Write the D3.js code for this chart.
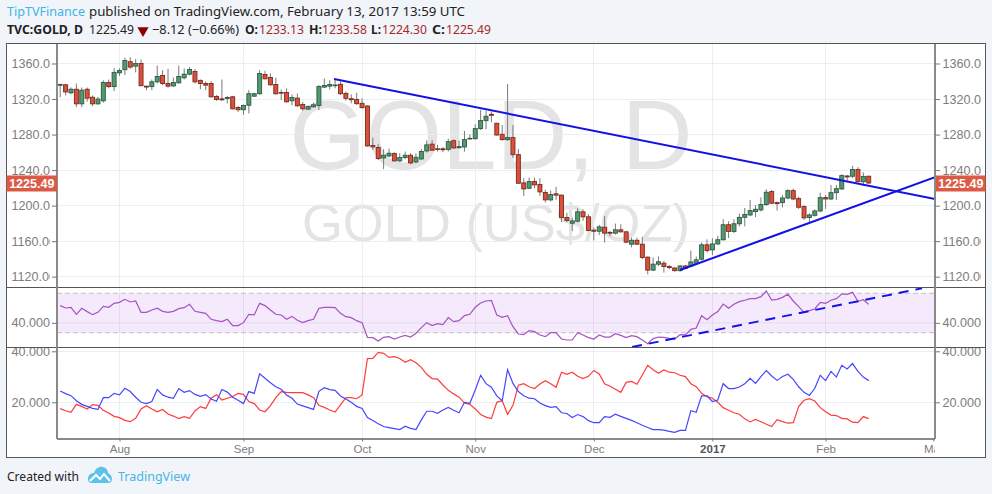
<!DOCTYPE html>
<html><head><meta charset="utf-8">
<script src="https://cdnjs.cloudflare.com/ajax/libs/d3/7.8.5/d3.min.js"></script>
<style>
html,body{margin:0;padding:0;background:#f1f4f8;}
svg{display:block;}
text{font-family:"Liberation Sans",Arial,sans-serif;}
.hd text{font-family:"Noto Sans",sans-serif;}
</style></head><body>
<script>
const opens=[1335.5,1336,1327,1331,1314.6,1331,1322,1314.6,1318,1338.6,1334,1349.5,1353,1362,1357,1360,1334.5,1334,1339.4,1346.5,1337.5,1334.8,1338.2,1343.9,1348,1351,1341,1337.5,1337.5,1322.9,1320.2,1320.6,1322.5,1310.5,1308,1313,1323.2,1326,1347.6,1344.2,1336.4,1327.4,1327.4,1318,1321,1313.9,1308.6,1311.2,1312.8,1333.4,1334.5,
1335,1336.6,1326.4,1320.4,1319.6,1315.2,1312.2,1267.6,1265.4,1253.7,1256,1258.6,1250.4,1254.1,1256.7,1249.2,1252.6,1261.6,1269.2,1264,1264,1263.3,1273.1,1265.2,1266.1,1275,1275.4,1286.7,1295.7,1302.8,1292.7,1280.3,1274.3,1276.6,1257.4,1225.6,1219.6,1227.1,1223.8,1214.8,1206.5,1213.3,1211.8,1186.7,1180.2,1182.5,1193,1187.4,1172.4,1171.2,1175.7,1169.7,1169,1172.8,1170.5,1156.6,1161,1156.6,1142,1127.4,1134.1,
1135.2,1131.4,1129.8,1126.8,1132.1,1132.1,1135.2,1139.7,1155.9,1150.2,1156.9,1161.6,1178.5,1171,1179.6,1186.8,1189.5,1193.3,1195.2,1201.2,1215.8,1203.4,1203.4,1208.6,1216.9,1207.9,1198.9,1186.6,1189.1,1194,1209,1207.5,1214.6,1218.8,1233.4,1233.1,1240.7,1226.9,1233.13];
const closes=[1336.5,1328,1331,1314.6,1330,1321,1314.6,1320,1338.6,1334,1350,1352,1363.4,1356,1360,1335,1333.5,1339.4,1345.4,1337.5,1334.5,1338.6,1345.4,1348,1353.2,1339.4,1337.5,1335.6,1322.5,1319.5,1319.1,1321.7,1309,1308,1312.8,1326,1326,1348.8,1342.8,1336,1325.9,1326.6,1316.9,1321.8,1312.4,1309,1311.6,1313.5,1334.1,1335.2,1336.4,
1335.8,1326,1320.8,1319.2,1314.8,1310.3,1267.2,1266.1,1253,1256.7,1259,1250.4,1254.1,1256.7,1248.1,1254.5,1260.9,1268.4,1262.4,1263.3,1262.9,1272,1264.9,1266.4,1274.3,1275.8,1286.7,1295.7,1300.6,1301.7,1279.5,1274.3,1276.6,1257.4,1225.2,1218.8,1227.1,1223.4,1215.5,1206.5,1212.5,1211.8,1186.7,1183.3,1182.8,1193,1187.4,1172,1171.2,1176.1,1169,1169,1172.8,1170.5,1158.9,1161,1156.6,1141.6,1127.4,1134.1,1136.8,
1131.4,1130.2,1126.8,1132.1,1129.4,1136.6,1139,1155.9,1149.4,1156.9,1161.6,1178.5,1171,1179.6,1186.8,1190.1,1194.4,1195.9,1201.2,1215.1,1202.7,1202.3,1208.6,1216.9,1207.5,1198.2,1186.2,1189.5,1194,1209,1207.5,1214.6,1219.1,1233.8,1232.3,1240.7,1226.9,1232.9,1225.49];
const highs=[1337,1337,1333,1337.5,1333,1333,1324,1322.5,1341,1342,1354.5,1354.5,1366.7,1367,1365,1364.5,1334.5,1342,1357.7,1352.5,1354,1344.2,1357.7,1354.4,1356,1353.6,1342,1340,1340,1324.4,1342,1323.6,1323.6,1312,1314,1330,1327,1352.5,1351.8,1348.8,1343.9,1330.8,1332,1325.1,1326.2,1316.5,1312.4,1315.7,1335.6,1343.1,1341.2,
1341.4,1339.6,1328.3,1325.3,1327.1,1320.8,1312.9,1276.6,1269.2,1263.4,1264.2,1260.1,1259,1260.9,1259,1259,1263.9,1273.3,1273.7,1268.4,1265.7,1275.4,1274.6,1273.1,1284.1,1280.3,1291.6,1307.7,1307,1305.8,1293.4,1290.8,1336.9,1290.8,1263.8,1230.9,1231.6,1231.6,1230.9,1217.8,1217,1221.2,1212.5,1191.9,1186.6,1197.1,1196,1190.4,1175.4,1178.3,1188.2,1171.6,1179.8,1179,1171.6,1164,1164,1164.8,1142.8,1141.6,1142.8,
1137.8,1133.2,1130.6,1133.2,1133.2,1149.4,1142.7,1158.5,1162,1163.4,1166,1184.8,1182.3,1184.8,1190.9,1197.3,1206.4,1200.8,1209.4,1218.5,1217.7,1204.6,1212,1218.4,1219.2,1210.1,1200.4,1191.4,1195.9,1214.6,1212,1223.2,1223.2,1235.3,1234.5,1244.8,1243.3,1237.4,1233.58];
const lows=[1322,1324,1325.5,1311,1311,1317,1312,1313.5,1316,1332,1329,1346,1347,1354,1350,1334.5,1330,1330,1337.5,1335.6,1333,1333.7,1337.5,1342,1346.5,1337.5,1331,1330,1321.7,1318,1318,1315,1308.3,1305.6,1302.2,1303.8,1322.5,1325,1342,1335.2,1325,1318.8,1315.8,1313,1311.2,1306.8,1308.2,1310.5,1307.5,1332.2,1330.8,
1332,1324.5,1318.2,1315.2,1313.3,1309.2,1266.4,1262.7,1251.4,1241,1254.5,1249.6,1248.9,1252.2,1246.6,1247.7,1251.4,1259.7,1261.6,1260.9,1260.1,1261,1264,1264.3,1260.8,1274.7,1273.9,1285.2,1285.9,1294,1278.8,1273.1,1273.1,1253.6,1224.4,1210.9,1218.4,1219.6,1210.9,1203.5,1204.6,1206.5,1181.4,1181.4,1171.4,1181,1183,1171.2,1160.8,1167.1,1158.5,1165.6,1167.4,1169.7,1157.7,1153,1155.7,1139.8,1122.6,1126.6,1132,
1124.6,1128.4,1125.7,1125.7,1128.3,1130.6,1133.3,1138.2,1147.2,1144.2,1155.8,1160.6,1163.5,1169,1176.6,1176.6,1188.4,1187.2,1193.3,1199.7,1201.9,1194.4,1198,1207.1,1206.4,1196.3,1184,1181.4,1187.6,1192.5,1196.3,1206.4,1206.4,1217.7,1227,1231,1226.1,1222.2,1224.3];
const rsi=[57.5,55.1,55.8,48.7,54.8,51.4,48.3,50.7,56.8,55.8,59.8,60.8,63.9,61.2,62.2,50.7,50.7,53.1,54.8,51.7,50.7,51.7,54.4,55.4,58.8,51.7,50.7,49.7,43.6,42.2,41.2,43.6,37.2,37.2,40.2,48.7,48,59.8,57.5,53.1,48.7,48,43.6,46.6,42.6,40.2,42.2,43.6,54.8,55.8,55.8,
55.4,49.7,46.3,45.3,42.2,40.2,25.3,25,21.6,25.3,26,23.6,25.6,27.3,25.6,29.4,35.1,40.2,37.2,39.2,38.2,45.3,41.2,42.2,47.3,48.7,55.8,60.2,62.2,62.9,48,45.6,47.3,36.1,28.7,28,32.1,31.1,27.7,26,30,30,23.6,22.6,22.6,30,27.7,25,23.6,27.7,25.6,25.6,29,27.3,25,27,26,22.6,18.9,24,25.6,
25.3,24.3,23.6,28,27.7,33.4,34.8,47.3,43.2,48,51.4,59.1,54.8,58.8,61.5,62.9,64.6,64.6,66.6,72.3,63.2,63.9,65.9,69,62.2,56.4,50.7,52.4,54.1,60.8,59.8,62.9,64.6,69.3,69,71,61.9,63.5,58.8];
const diPlus=[24.4,23.4,22.6,20.6,19.2,18.4,17.6,17.2,21.8,21.8,23.5,22.9,25.5,24.2,22,20,19.5,20.3,25,22.9,22,21.6,25.4,23.9,24.6,23.1,22.3,23,21.3,20.4,25,24,22,20.8,19.5,24.2,23.5,31.2,29.4,27.7,26.1,25.1,22.9,21.6,19.3,18.6,17.9,17.2,24.3,25.7,25,
24.7,22.5,21.3,20,18.4,17.6,14,12.9,11.6,10.5,10.1,9.7,9.3,10.6,9.8,9.3,13.1,16.5,16.5,15.7,17,18,16.9,15.9,20,19.6,24.8,30.6,27.3,25.9,22.5,20.6,32.8,27.4,24.2,22.6,21.6,21.4,19.7,18.7,18,18.3,15.9,15.6,14,15.2,14.4,12.8,12,12,14.4,14.1,15.3,14.5,13.7,12.9,12,11,10.1,9.3,9.3,
9.1,8.6,8.2,9,9,16.7,16.1,22.5,22.5,20.3,20.9,27.3,25.4,25.4,26,27.3,29.4,27.4,30.1,32.4,30.3,28.6,30.1,31,29,26.1,23.9,22.7,25.5,30.6,28.5,32.1,29.9,34.5,33.1,35.2,32.1,29.9,28.5];
const diMinus=[17.5,16.7,16.1,19.2,18.4,17.4,19.1,18.8,16.9,15.8,14.5,14,12.9,12.4,13.7,17.4,18.7,17.4,16.3,17.2,15.4,14.6,13.6,14.4,13.7,16.6,18.3,17.6,21.6,23,20.9,21.6,22.3,23.5,23.1,20.3,19.5,17,16.3,18.7,21.8,24.2,23.9,23.8,23.8,23.8,22.9,21.8,18.8,18,17,
16.2,19,21.8,21.8,21.4,22.9,37.1,37.2,39.6,39.2,37.6,37.9,37.2,35.7,36.7,35.5,33.7,31,29.3,29.1,26.8,24.7,23.3,22,19.7,19.2,17.4,15.2,14.2,13.6,20,20.6,15.3,18.8,26.7,27.3,26.1,25.4,27.2,28.5,27.3,25.9,31.8,31,31.8,30.2,29.3,30.2,32.5,31.1,27.3,26.3,25.1,23.9,27.8,28.2,27.1,30.7,34.5,32.8,31.4,
32.7,31.8,31.6,30.6,30.1,27.3,26.1,23.5,22.2,21.6,20,17.9,16.9,15.9,15.3,13.5,12.3,13.3,12.4,11.4,10.5,13.2,12.4,11.8,12,18.3,20.8,21.4,20.5,17.9,16.3,15,14.8,13.7,13.5,12.2,12,14.4,13.6];
const monthBars=[11,34,56,77,99,121,142,162];
const monthLabels=["Aug","Sep","Oct","Nov","Dec","2017","Feb","Mar"];
const priceTicks=[1120,1160,1200,1240,1280,1320,1360];
const rsiTicks=[40];
const rsiBand=[30,70];
const diTicks=[20,40];
const lastClose=1225.49;
const fallLine=[[50.8,1342.6],[162.3,1207.5]];
const riseLine=[[115,1127.6],[162.3,1232]];
const rsiLine=[[106.1,15.5],[159.9,75.1]];

const W=992,H=494;
const L=57,R=935,FL=6.5,FR=985.5,FT=43.5,FB=457;
const pT=44,pB=287,rT=287,rB=347,dT=347,dB=438.5;
const svg=d3.select("body").append("svg").attr("width",W).attr("height",H);
const defs=svg.append("defs");
function clip(id,x,y,w,h){defs.append("clipPath").attr("id",id).append("rect").attr("x",x).attr("y",y).attr("width",w).attr("height",h);}
clip("cP",L,pT,R-L,pB-pT);clip("cR",L,rT+1,R-L,rB-rT-1);clip("cD",L,dT+1,R-L,dB-dT-1);
clip("lblL",8,pT,42,pB-pT);clip("lblL2",8,rT+1,42,rB-rT-1);clip("lblL3",8,dT+1,42,dB-dT);
clip("lblR",940,pT,41,pB-pT);clip("lblR2",940,rT+1,41,rB-rT-1);clip("lblR3",940,dT+1,41,dB-dT);
clip("lblB",L,dB,R-L,18);

svg.append("rect").attr("x",FL).attr("y",FT).attr("width",FR-FL).attr("height",FB-FT).attr("fill","#fff");

const x=d3.scaleLinear().domain([0,162]).range([60.2,933.4]);
const yP=d3.scaleLinear().domain([1120,1360]).range([276.7,63.5]);
const yR=d3.scaleLinear().domain([30,70]).range([332.7,293.3]);
const yD=d3.scaleLinear().domain([20,40]).range([402.3,351.3]);

// watermark
const wm=svg.append("g").attr("clip-path","url(#cP)").attr("fill","#e4e4e4");
wm.append("text").attr("x",491).attr("y",169).attr("text-anchor","middle").attr("font-size",98).text("GOLD, D");
wm.append("text").attr("x",496).attr("y",240.5).attr("text-anchor","middle").attr("font-size",52.5).text("GOLD (US$/OZ)");

// grid
const grid=svg.append("g").attr("stroke","#e9ecef").attr("stroke-opacity",.85).attr("shape-rendering","crispEdges");
grid.selectAll("line.h").data(priceTicks).join("line").attr("class","h").attr("x1",L).attr("x2",R).attr("y1",d=>yP(d)).attr("y2",d=>yP(d));
grid.selectAll("line.d").data(diTicks).join("line").attr("class","d").attr("x1",L).attr("x2",R).attr("y1",d=>yD(d)).attr("y2",d=>yD(d));
grid.selectAll("line.v").data(monthBars.slice(0,7)).join("line").attr("class","v").attr("x1",d=>x(d)).attr("x2",d=>x(d)).attr("y1",pT).attr("y2",dB);

// RSI band
const rG=svg.append("g");
rG.append("rect").attr("x",L).attr("width",R-L).attr("y",yR(rsiBand[1])).attr("height",yR(rsiBand[0])-yR(rsiBand[1])).attr("fill","#9c27e0").attr("fill-opacity",.1);
rG.selectAll("line.b").data(rsiBand).join("line").attr("class","b").attr("x1",L).attr("x2",R).attr("y1",d=>yR(d)).attr("y2",d=>yR(d)).attr("stroke","#c8b8cc").attr("stroke-dasharray","5,3");
rG.selectAll("line.t").data(rsiTicks).join("line").attr("class","t").attr("x1",L).attr("x2",R).attr("y1",d=>yR(d)).attr("y2",d=>yR(d)).attr("stroke","#e6d9ee");

// candles
const idx=d3.range(closes.length);
const cG=svg.append("g").attr("clip-path","url(#cP)");
cG.selectAll("line.w").data(idx).join("line").attr("class","w").attr("x1",i=>x(i)).attr("x2",i=>x(i)).attr("y1",i=>yP(highs[i])).attr("y2",i=>yP(lows[i])).attr("stroke","#7a7a7a").attr("stroke-width",1);
cG.selectAll("rect").data(idx).join("rect").attr("x",i=>x(i)-2).attr("width",4)
 .attr("y",i=>yP(Math.max(opens[i],closes[i]))).attr("height",i=>Math.max(.6,Math.abs(yP(opens[i])-yP(closes[i]))))
 .attr("fill",i=>closes[i]>=opens[i]?"#53996f":"#d9513a").attr("stroke",i=>closes[i]>=opens[i]?"#2c5a42":"#7c2a1c").attr("stroke-width",.9);

// trend lines
const tl=d3.line().x(d=>x(d[0]));
cG.selectAll("path.t").data([fallLine,riseLine]).join("path").attr("class","t").attr("fill","none").attr("stroke","#1212e6").attr("stroke-width",2)
 .attr("d",tl.y(d=>yP(d[1])));

// RSI
const rC=svg.append("g").attr("clip-path","url(#cR)");
rC.append("path").datum(rsi).attr("fill","none").attr("stroke","#a552c2").attr("stroke-width",1.2)
 .attr("d",d3.line().x((d,i)=>x(i)).y(d=>yR(d)));
rC.append("path").datum(rsiLine).attr("fill","none").attr("stroke","#1212e6").attr("stroke-width",2).attr("stroke-dasharray","10,7")
 .attr("d",d3.line().x(d=>x(d[0])).y(d=>yR(d[1])));

// DI
const dC=svg.append("g").attr("clip-path","url(#cD)");
const dl=d3.line().x((d,i)=>x(i)).y(d=>yD(d));
dC.append("path").datum(diMinus).attr("fill","none").attr("stroke","#ff3b3b").attr("stroke-width",1.2).attr("d",dl);
dC.append("path").datum(diPlus).attr("fill","none").attr("stroke","#4646ff").attr("stroke-width",1.2).attr("d",dl);

// frame lines & pane separators
const ax=svg.append("g").attr("shape-rendering","crispEdges");
ax.selectAll("line.s").data([pB,rB]).join("line").attr("class","s").attr("x1",FL).attr("x2",FR).attr("y1",d=>d+.5).attr("y2",d=>d+.5).attr("stroke","#555");
ax.append("line").attr("x1",L).attr("x2",L).attr("y1",FT).attr("y2",dB).attr("stroke","#8a8a8a").attr("stroke-width",2);
ax.append("line").attr("x1",R).attr("x2",R).attr("y1",FT).attr("y2",dB).attr("stroke","#8a8a8a").attr("stroke-width",2);
ax.append("line").attr("x1",L).attr("x2",R).attr("y1",dB).attr("y2",dB).attr("stroke","#8a8a8a").attr("stroke-width",2);
svg.append("rect").attr("x",FL).attr("y",FT).attr("width",FR-FL).attr("height",FB-FT).attr("fill","none").attr("stroke","#555").attr("shape-rendering","crispEdges");

// axes
function styleAxis(sel,size){
 sel.select(".domain").remove();
 sel.selectAll(".tick line").attr("stroke","#777");
 sel.selectAll(".tick text").attr("fill","#7d7d7d").attr("font-size",size||12.6).attr("font-family",'"Liberation Sans",Arial,sans-serif');
}
function addY(scale,ticks,fmt,cl,cr){
 const gl=svg.append("g").attr("clip-path",`url(#${cl})`).append("g").attr("transform",`translate(${L},0)`)
   .call(d3.axisLeft(scale).tickValues(ticks).tickFormat(fmt).tickSize(5));
 styleAxis(gl);
 gl.selectAll(".tick line").remove();
 gl.selectAll(".tick text").attr("text-anchor","start").attr("x",11.5-L);
 styleAxis(svg.append("g").attr("transform",`translate(${L},0)`).call(d3.axisLeft(scale).tickValues(ticks).tickFormat("").tickSize(5)));
 const gr=svg.append("g").attr("clip-path",`url(#${cr})`).append("g").attr("transform",`translate(${R},0)`)
   .call(d3.axisRight(scale).tickValues(ticks).tickFormat(fmt).tickSize(5));
 styleAxis(gr);
 gr.selectAll(".tick line").remove();
 gr.selectAll(".tick text").attr("text-anchor","start").attr("x",942.5-R);
 styleAxis(svg.append("g").attr("transform",`translate(${R},0)`).call(d3.axisRight(scale).tickValues(ticks).tickFormat("").tickSize(5)));
}
addY(yP,priceTicks,d3.format(".2f"),"lblL","lblR");
addY(yR,rsiTicks,d3.format(".4f"),"lblL2","lblR2");
addY(yD,diTicks,d3.format(".4f"),"lblL3","lblR3");

const gb=svg.append("g").attr("clip-path","url(#lblB)").append("g").attr("transform",`translate(0,${dB})`)
 .call(d3.axisBottom(x).tickValues(monthBars).tickFormat((d,i)=>monthLabels[i]).tickSize(0).tickPadding(6));
styleAxis(gb,11.5);
gb.selectAll(".tick text").attr("font-weight",(d,i)=>monthLabels[i]==="2017"?"bold":"normal").attr("fill",(d,i)=>monthLabels[i]==="2017"?"#555":"#7d7d7d");
styleAxis(svg.append("g").attr("transform",`translate(0,${dB})`).call(d3.axisBottom(x).tickValues(monthBars).tickFormat("").tickSize(3)));

// last price tags
const tagY=yP(lastClose)+.5;
[[FL,L-FL],[R+1,FR-R-1]].forEach(([tx,tw])=>{
 svg.append("rect").attr("x",tx).attr("y",tagY-8).attr("width",tw).attr("height",16).attr("fill","#dc5a44");
 svg.append("text").attr("x",tx+tw/2).attr("y",tagY+4.5).attr("text-anchor","middle").attr("fill","#fff").attr("font-weight","bold").attr("font-size",12.5).text(d3.format(".2f")(lastClose));
});

// header
const hd=svg.append("g").attr("class","hd").attr("font-size",13).attr("fill","#222");
function h(xp,yp,t,len,o){const n=hd.append("text").attr("x",xp).attr("y",yp).attr("textLength",len).attr("lengthAdjust","spacingAndGlyphs").text(t);if(o&&o.b)n.attr("font-weight","bold");if(o&&o.c)n.attr("fill",o.c);}
const red="#a52a2a";
h(7,16,"TipTVFinance",78,{c:"#3fb5e8"});
h(89,16,"published on TradingView.com, February 13, 2017 13:59 UTC",376);
h(7,34,"TVC:GOLD, D",76,{b:1});h(89,34,"1225.49",45);
hd.append("path").attr("d",d3.symbol(d3.symbolTriangle,55)()).attr("transform","translate(143,30.5) rotate(180)").attr("fill","#8b0000");
h(152,34,"−8.12 (−0.66%)",87);
h(245,34,"O:",13,{b:1});h(259,34,"1233.13",45,{c:red});
h(309,34,"H:",13,{b:1});h(322,34,"1233.58",45,{c:red});
h(371,34,"L:",10,{b:1});h(382,34,"1224.30",45,{c:red});
h(432,34,"C:",13,{b:1});h(446,34,"1225.49",45,{c:red});

// footer
h(7,481,"Created with",72);
h(118,481,"TradingView",72,{c:"#4bb5e6"});
const lg=svg.append("g").attr("transform","translate(88,466)");
lg.append("path").attr("d","M0,13 C0,9 3,7 6,7 C7,3 11,0 15,1 C19,2 20,5 20,7 C22,8 24,10 24,13 C24,16 22,17 20,17 L4,17 C1,17 0,15 0,13Z").attr("fill","#5cc3e8");
lg.append("path").attr("d","M2,15 L8,9 L12,13 L16,8 L22,15").attr("fill","none").attr("stroke","#fff").attr("stroke-width",2);
</script>
</body></html>
